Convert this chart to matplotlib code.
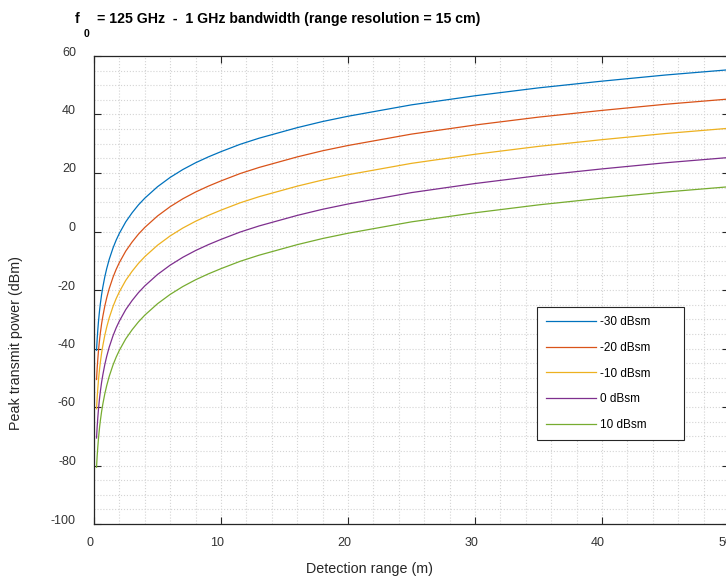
import matplotlib.pyplot as plt
from matplotlib.ticker import MultipleLocator
import matplotlib.transforms as mtransforms

plt.rcParams['font.family'] = ['Liberation Sans', 'DejaVu Sans']
plt.rcParams['axes.unicode_minus'] = False

# detection range (m)
rango = [0.2, 0.22, 0.25, 0.3, 0.35, 0.4, 0.45, 0.5, 0.6, 0.7, 0.85, 1, 1.2, 1.5, 1.75,
         2, 2.5, 3, 3.5, 4, 5, 6, 7, 8, 9, 10, 11.5, 13, 16, 18, 20, 25, 30, 35, 40, 45, 50]

# peak transmit power (dBm) per target RCS
p_m30 = [-40.6, -39.0, -36.7, -33.6, -30.9, -28.6, -26.5, -24.7, -21.5, -18.9, -15.5, -12.7,
         -9.5, -5.6, -2.9, -0.6, 3.3, 6.4, 9.1, 11.4, 15.3, 18.5, 21.2, 23.5, 25.5, 27.3,
         29.8, 31.9, 35.5, 37.6, 39.4, 43.3, 46.4, 49.1, 51.4, 53.5, 55.3]
p_m20 = [-50.6, -49.0, -46.7, -43.6, -40.9, -38.6, -36.5, -34.7, -31.5, -28.9, -25.5, -22.7,
         -19.5, -15.6, -12.9, -10.6, -6.7, -3.6, -0.9, 1.4, 5.3, 8.5, 11.2, 13.5, 15.5, 17.3,
         19.8, 21.9, 25.5, 27.6, 29.4, 33.3, 36.4, 39.1, 41.4, 43.5, 45.3]
p_m10 = [-60.6, -59.0, -56.7, -53.6, -50.9, -48.6, -46.5, -44.7, -41.5, -38.9, -35.5, -32.7,
         -29.5, -25.6, -22.9, -20.6, -16.7, -13.6, -10.9, -8.6, -4.7, -1.5, 1.2, 3.5, 5.5, 7.3,
         9.8, 11.9, 15.5, 17.6, 19.4, 23.3, 26.4, 29.1, 31.4, 33.5, 35.3]
p_0 = [-70.6, -69.0, -66.7, -63.6, -60.9, -58.6, -56.5, -54.7, -51.5, -48.9, -45.5, -42.7,
       -39.5, -35.6, -32.9, -30.6, -26.7, -23.6, -20.9, -18.6, -14.7, -11.5, -8.8, -6.5, -4.5,
       -2.7, -0.2, 1.9, 5.5, 7.6, 9.4, 13.3, 16.4, 19.1, 21.4, 23.5, 25.3]
p_10 = [-80.6, -79.0, -76.7, -73.6, -70.9, -68.6, -66.5, -64.7, -61.5, -58.9, -55.5, -52.7,
        -49.5, -45.6, -42.9, -40.6, -36.7, -33.6, -30.9, -28.6, -24.7, -21.5, -18.8, -16.5,
        -14.5, -12.7, -10.2, -8.1, -4.5, -2.4, -0.6, 3.3, 6.4, 9.1, 11.4, 13.5, 15.3]

series = [p_m30, p_m20, p_m10, p_0, p_10]
etiquetas = ['-30 dBsm', '-20 dBsm', '-10 dBsm', '0 dBsm', '10 dBsm']
colores = ['#0072BD', '#D95319', '#EDB120', '#7E2F8E', '#77AC30']

fig = plt.figure(figsize=(7.26, 5.78), dpi=100)
ax = fig.add_axes([94 / 726, 54 / 578, 635 / 726, 468 / 578])

for vals, lab, col in zip(series, etiquetas, colores):
    ax.plot(rango, vals, color=col, lw=0.9, label=lab)

ax.set_xlim(0, 50)
ax.set_ylim(-100, 60)
ax.xaxis.set_major_locator(MultipleLocator(10))
ax.xaxis.set_minor_locator(MultipleLocator(2))
ax.yaxis.set_major_locator(MultipleLocator(20))
ax.yaxis.set_minor_locator(MultipleLocator(5))

ax.grid(which='both', color='#d4d4d4', linestyle=':', lw=0.8)
ax.set_axisbelow(True)

gris = '#262626'
ax.tick_params(which='major', direction='in', length=5, width=0.8, color=gris,
               top=True, right=True, labelsize=9, labelcolor='#333333')
ax.tick_params(which='minor', length=0)
ax.tick_params(axis='x', pad=9)
ax.tick_params(axis='y', pad=13)
for s in ax.spines.values():
    s.set_color(gris)
    s.set_linewidth(0.9)

# MATLAB export offsets of the tick labels
offx = mtransforms.ScaledTranslation(-4 / 100, 0, fig.dpi_scale_trans)
offy = mtransforms.ScaledTranslation(0, 5 / 100, fig.dpi_scale_trans)
for t in ax.get_xticklabels():
    t.set_transform(t.get_transform() + offx)
for t in ax.get_yticklabels():
    t.set_transform(t.get_transform() + offy)

fig.text(369 / 726, 1 - 569 / 578, 'Detection range (m)', ha='center', va='center',
         fontsize=10.3, color=gris)
fig.text(16 / 726, 1 - 343 / 578, 'Peak transmit power (dBm)', ha='center', va='center',
         rotation=90, fontsize=10.3, color=gris)

# title with the odd subscript
fig.text(75 / 726, 1 - 19 / 578, 'f', ha='left', va='center', fontsize=10.2, fontweight='bold')
fig.text(84 / 726, 1 - 34 / 578, '0', ha='left', va='center', fontsize=7.5, fontweight='bold')
fig.text(97 / 726, 1 - 19 / 578, '= 125 GHz  -  1 GHz bandwidth (range resolution = 15 cm)',
         ha='left', va='center', fontsize=10.2, fontweight='bold')

leg = ax.legend(loc='upper left',
                bbox_to_anchor=(537 / 726, 1 - 440 / 578, 147 / 726, 133 / 578),
                bbox_transform=fig.transFigure, mode='expand', borderaxespad=0,
                fontsize=8.5, handlelength=4.2, handletextpad=0.3, labelspacing=1.15,
                borderpad=0.8, fancybox=False, framealpha=1, edgecolor=gris)
leg.get_frame().set_linewidth(0.8)

fig.savefig('out.png', dpi=100)
